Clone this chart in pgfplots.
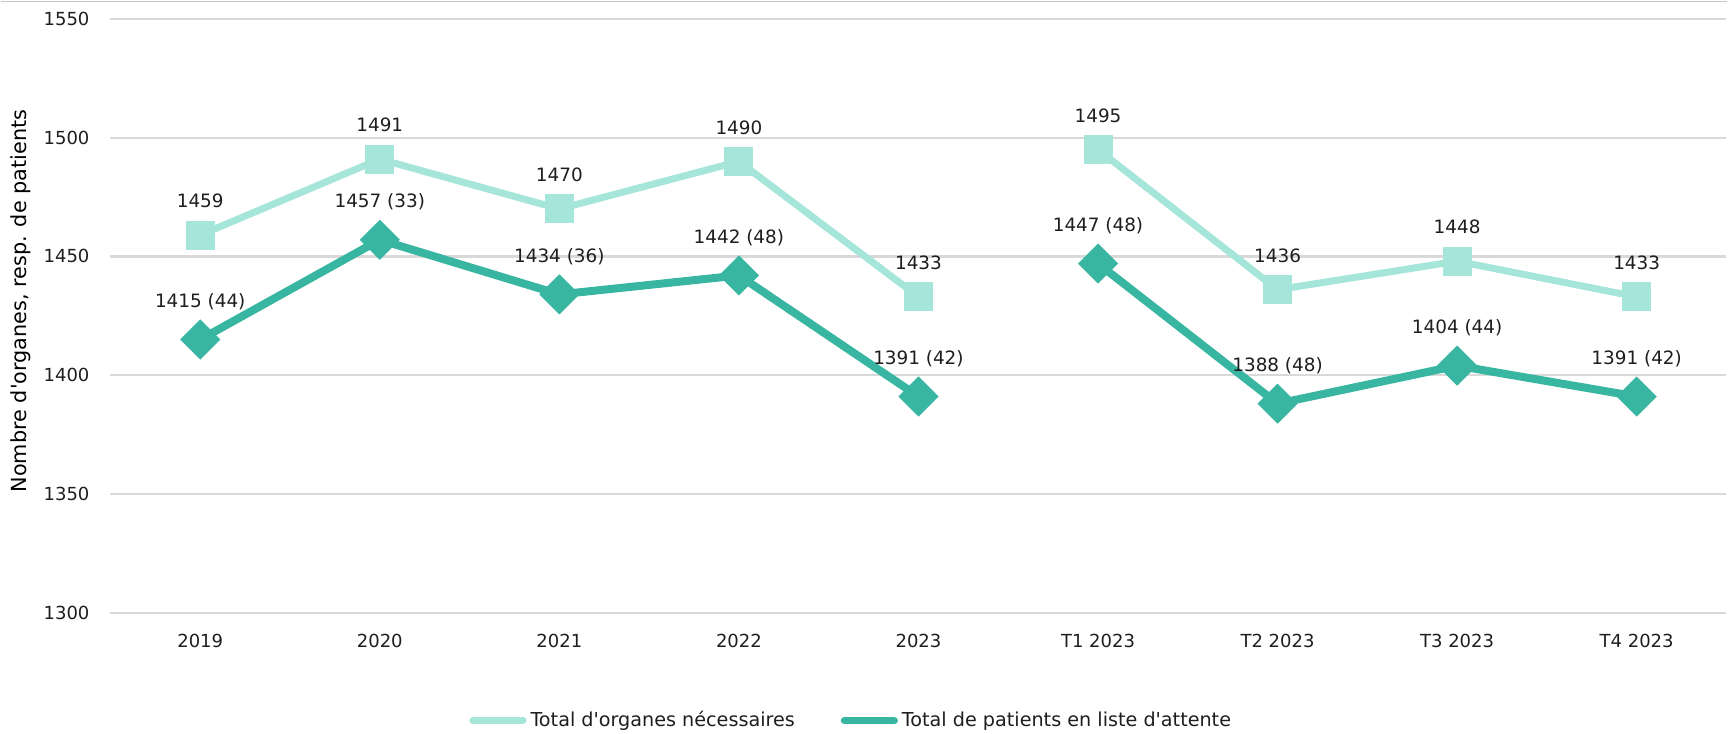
\documentclass[border=0pt]{standalone}
\usepackage{fontspec}
\setmainfont{DejaVu Sans}
\usepackage{pgfplots}
\usepackage{pgfplotstable}
\pgfplotsset{compat=1.18}
\definecolor{lightc}{RGB}{166,230,218}
\definecolor{darkc}{RGB}{56,182,162}
\definecolor{gridc}{RGB}{217,217,217}
\definecolor{txt}{RGB}{30,30,30}

\pgfplotstableread[col sep=comma,row sep=\\]{
x,y,lab\\
0,1459,1459\\
1,1491,1491\\
2,1470,1470\\
3,1490,1490\\
4,1433,1433\\
}\orgA
\pgfplotstableread[col sep=comma,row sep=\\]{
x,y,lab\\
5,1495,1495\\
6,1436,1436\\
7,1448,1448\\
8,1433,1433\\
}\orgB
\pgfplotstableread[col sep=comma,row sep=\\]{
x,y,lab\\
0,1415,1415 (44)\\
1,1457,1457 (33)\\
2,1434,1434 (36)\\
3,1442,1442 (48)\\
4,1391,1391 (42)\\
}\patA
\pgfplotstableread[col sep=comma,row sep=\\]{
x,y,lab\\
5,1447,1447 (48)\\
6,1388,1388 (48)\\
7,1404,1404 (44)\\
8,1391,1391 (42)\\
}\patB

\begin{document}
\begin{tikzpicture}
\begin{axis}[
  scale only axis,
  width=808.5pt, height=297pt,
  xmin=-0.5, xmax=8.5,
  ymin=1300, ymax=1550,
  ytick={1300,1350,1400,1450,1500,1550},
  xtick={0,1,2,3,4,5,6,7,8},
  xticklabels={2019,2020,2021,2022,2023,T1 2023,T2 2023,T3 2023,T4 2023},
  ymajorgrids,
  major grid style={draw=gridc, line width=1.1pt},
  axis line style={draw=none},
  tick style={draw=none},
  major tick length=0pt,
  clip=false,
  font=\fontsize{9}{11}\selectfont,
  every tick label/.append style={font=\fontsize{9}{11}\selectfont, text=txt},
  /pgf/number format/assume math mode=true,
  /pgf/number format/1000 sep={},
  yticklabel style={xshift=-7pt},
  xticklabel style={yshift=-7pt},
  ylabel={Nombre d\textquotesingle organes, resp. de patients},
  every axis y label/.style={at={(rel axis cs:0,0.525)}, xshift=-45pt, rotate=90, anchor=center, font=\fontsize{10.4}{12}\selectfont, text=black},
  point meta=explicit symbolic,
  nodes near coords,
  every node near coord/.append style={font=\fontsize{9.2}{11}\selectfont, text=txt, anchor=center},
  legend columns=2,
  legend style={at={(rel axis cs:0.459,-0.182)}, anchor=center, draw=none, fill=none,
    font=\fontsize{9.6}{11}\selectfont, text=txt,
    /tikz/every even column/.append style={column sep=21pt},
    inner sep=0pt},
  legend image code/.code={\draw[#1, mark=none, line width=3.6pt, line cap=round] (0pt,0pt) -- (25pt,0pt);},
]
\path (rel axis cs:-0.0680,1.032) rectangle (rel axis cs:1.0006,-0.2037);
\draw[gray!45, line width=0.6pt] (rel axis cs:-0.0680,1.0295) -- (rel axis cs:1.0006,1.0295);

\addplot[color=lightc, line width=3.5pt, mark=square*, mark size=5.5pt, mark options={solid},
  every node near coord/.append style={yshift=17pt}]
  table[x=x, y=y, meta=lab] {\orgA};
\addlegendentry{Total d\textquotesingle organes nécessaires}
\addplot[color=darkc, line width=4pt, mark=square*, mark size=5.1pt, mark options={solid, rotate=45},
  every node near coord/.append style={yshift=19pt}]
  table[x=x, y=y, meta=lab] {\patA};
\addlegendentry{Total de patients en liste d\textquotesingle attente}
\addplot[forget plot, color=lightc, line width=3.5pt, mark=square*, mark size=5.5pt, mark options={solid},
  every node near coord/.append style={yshift=17pt}]
  table[x=x, y=y, meta=lab] {\orgB};
\addplot[forget plot, color=darkc, line width=4pt, mark=square*, mark size=5.1pt, mark options={solid, rotate=45},
  every node near coord/.append style={yshift=19pt}]
  table[x=x, y=y, meta=lab] {\patB};
\end{axis}
\end{tikzpicture}
\end{document}
